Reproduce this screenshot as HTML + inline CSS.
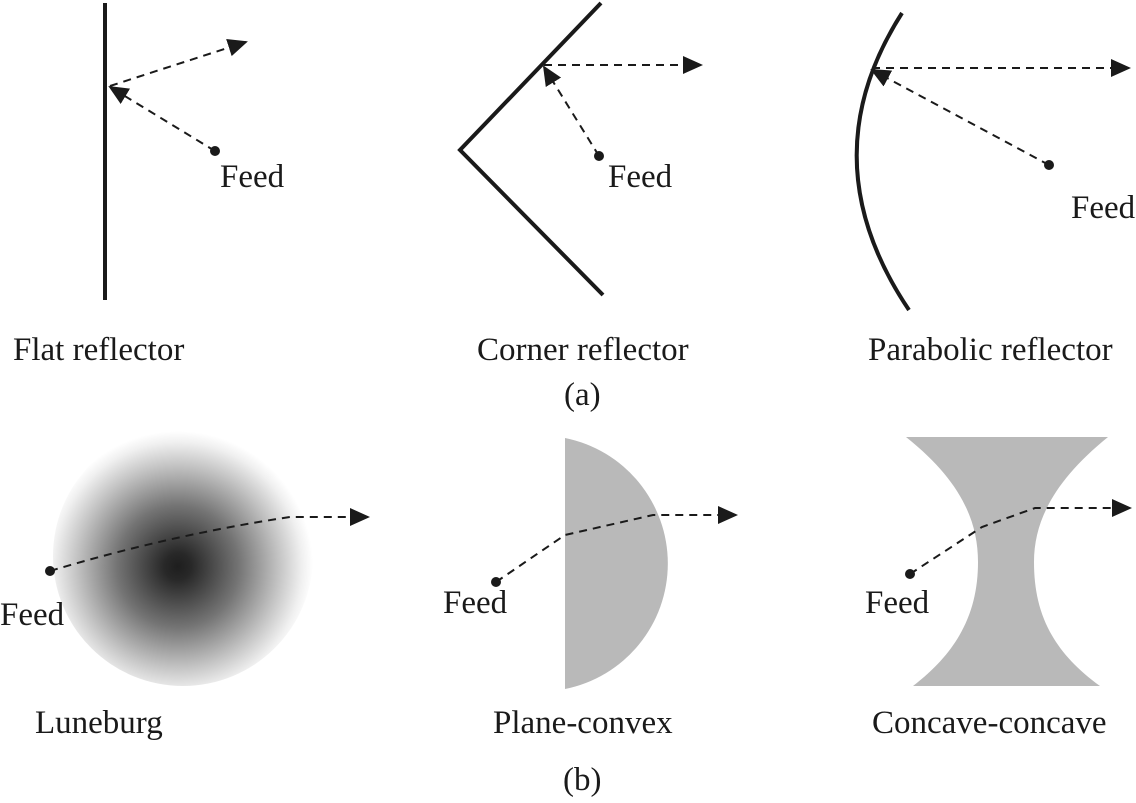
<!DOCTYPE html>
<html><head><meta charset="utf-8"><style>
html,body{margin:0;padding:0;background:#fff;}
svg{display:block;}
text{font-family:"Liberation Serif",serif;font-size:33px;fill:#1a1a1a;}
</style></head><body>
<svg width="1136" height="803" viewBox="0 0 1136 803" xmlns="http://www.w3.org/2000/svg">
<defs>
<marker id="ar" viewBox="0 0 10 10" refX="9" refY="5" markerWidth="20" markerHeight="20" markerUnits="userSpaceOnUse" orient="auto">
<path d="M0,0.5 L10,5 L0,9.5 z" fill="#1a1a1a"/></marker>
<radialGradient id="lg" cx="0.48" cy="0.54" r="0.52">
<stop offset="0" stop-color="#1e1e1e"/>
<stop offset="0.1" stop-color="#282828"/>
<stop offset="0.45" stop-color="#747474"/>
<stop offset="0.75" stop-color="#c4c4c4"/>
<stop offset="0.92" stop-color="#f0f0f0"/>
<stop offset="1" stop-color="#ffffff"/>
</radialGradient>
</defs>
<g stroke="#1a1a1a" fill="none">
<line x1="105" y1="3" x2="105" y2="300" stroke-width="4"/>
<polyline points="601,3 460,150 603,295" stroke-width="4"/>
<path d="M902,13 Q808,160 909,310" stroke-width="4"/>
</g>
<g stroke="#1a1a1a" fill="none" stroke-width="2" stroke-dasharray="8,6">
<line x1="215" y1="151" x2="110" y2="87" marker-end="url(#ar)"/>
<line x1="110" y1="86" x2="246" y2="42" marker-end="url(#ar)"/>
<line x1="599" y1="156" x2="544" y2="67" marker-end="url(#ar)"/>
<line x1="544" y1="65" x2="701" y2="65" marker-end="url(#ar)"/>
<line x1="1049" y1="165" x2="872" y2="70" marker-end="url(#ar)"/>
<line x1="872" y1="68" x2="1129" y2="68" marker-end="url(#ar)"/>
</g>
<g fill="#1a1a1a">
<circle cx="215" cy="151" r="5"/>
<circle cx="599" cy="156" r="5"/>
<circle cx="1049" cy="165" r="5"/>
</g>
<text x="220" y="187">Feed</text>
<text x="608" y="187">Feed</text>
<text x="1071" y="218">Feed</text>
<text x="13" y="360">Flat reflector</text>
<text x="477" y="360">Corner reflector</text>
<text x="868" y="360">Parabolic reflector</text>
<text x="564" y="405">(a)</text>

<circle cx="183" cy="556" r="130" fill="url(#lg)"/>
<path d="M565,438 A128,128 0 0 1 565,689 Z" fill="#b9b9b9"/>
<path d="M906,437 L1108,437 C1055,480 1034,520 1034,562 C1034,610 1050,650 1100,686 L913,686 C960,650 978,610 978,562 C978,520 960,480 906,437 Z" fill="#b9b9b9"/>

<g stroke="#1a1a1a" fill="none" stroke-width="2" stroke-dasharray="8,6">
<path d="M50,571 Q170,535 290,517 L368,517" marker-end="url(#ar)"/>
<path d="M496,582 L565,535 L653,515 L736,515" marker-end="url(#ar)"/>
<path d="M910,574 L982,527 L1035,508 L1130,508" marker-end="url(#ar)"/>
</g>
<g fill="#1a1a1a">
<circle cx="50" cy="571" r="5"/>
<circle cx="496" cy="582" r="5"/>
<circle cx="910" cy="574" r="5"/>
</g>
<text x="0" y="625">Feed</text>
<text x="443" y="613">Feed</text>
<text x="865" y="613">Feed</text>
<text x="35" y="733">Luneburg</text>
<text x="493" y="733">Plane-convex</text>
<text x="872" y="733">Concave-concave</text>
<text x="563" y="790">(b)</text>
</svg>
</body></html>
